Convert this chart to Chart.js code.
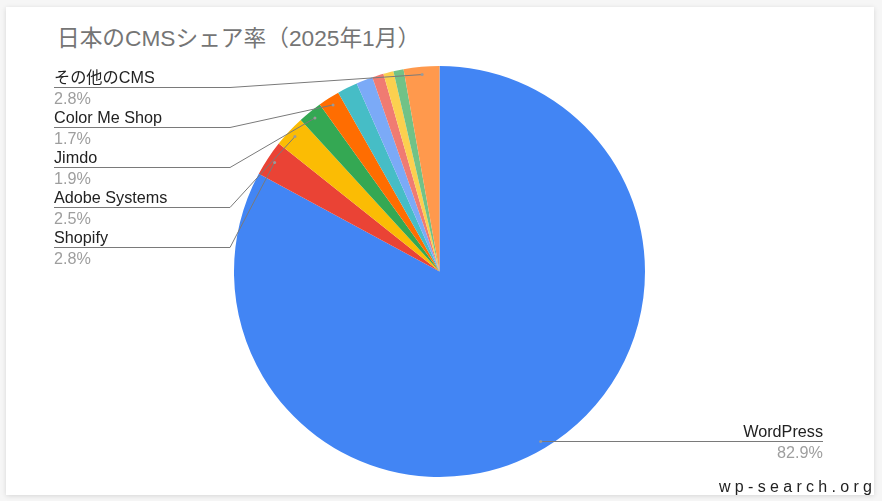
<!DOCTYPE html>
<html lang="ja">
<head>
<meta charset="utf-8">
<title>日本のCMSシェア率（2025年1月）</title>
<script src="https://cdn.jsdelivr.net/npm/chart.js@4/dist/chart.umd.min.js"></script>
<style>
  html, body {
    margin: 0;
    padding: 0;
    width: 882px;
    height: 501px;
    background: #f6f6f6;
    overflow: hidden;
  }
  .card {
    position: absolute;
    left: 6px;
    top: 7px;
    width: 868px;
    height: 488px;
    background: #fff;
    box-shadow: 0 1px 5px rgba(0, 0, 0, 0.13);
  }
  .title {
    position: absolute;
    left: 57px;
    top: 20px;
    font-family: "Liberation Sans", "Noto Sans CJK JP", sans-serif;
    font-size: 22.7px;
    color: #757575;
    white-space: nowrap;
  }
  .watermark {
    position: absolute;
    left: 719px;
    top: 478px;
    font-family: "Liberation Sans", sans-serif;
    font-size: 16px;
    letter-spacing: 4.3px;
    color: #222;
    white-space: nowrap;
  }
  #cms_pie {
    position: absolute;
    left: 0;
    top: 0;
  }
</style>
</head>
<body>
<div class="card"></div>
<div class="title">日本のCMSシェア率（2025年1月）</div>
<canvas id="cms_pie" width="882" height="501"></canvas>
<div class="watermark">wp-search.org</div>

<script>
// データ
const cms_names = [
  "WordPress",
  "Shopify",
  "Adobe Systems",
  "Jimdo",
  "Color Me Shop",
  "",
  "",
  "",
  "",
  "",
  "その他のCMS",
];
const share_values = [82.9, 2.8, 2.5, 1.9, 1.7, 1.6, 1.3, 0.9, 0.8, 0.8, 2.8];
const share_labels = ["82.9%", "2.8%", "2.5%", "1.9%", "1.7%", "", "", "", "", "", "2.8%"];
const slice_colors = [
  "#4285F4",
  "#EA4335",
  "#FBBC04",
  "#34A853",
  "#FF6D01",
  "#46BDC6",
  "#7BAAF7",
  "#F07B72",
  "#FCD04F",
  "#71C287",
  "#FF994D",
];

// ラベルと引き出し線
const callout_plugin = {
  id: "callouts",
  afterDatasetsDraw(chart) {
    const c = chart.ctx;
    const arcs = chart.getDatasetMeta(0).data;
    const left_items = [];
    const right_items = [];

    arcs.forEach((arc, i) => {
      if (!cms_names[i]) return;
      const mid = (arc.startAngle + arc.endAngle) / 2;
      const r = arc.outerRadius * 0.962;
      const dot = { x: arc.x + Math.cos(mid) * r, y: arc.y + Math.sin(mid) * r };
      if (dot.x < arc.x) left_items.push({ i, dot });
      else right_items.push({ i, dot });
    });

    c.save();
    c.lineWidth = 1;
    c.strokeStyle = "#7a7a7a";
    const label_font = '16.2px "Liberation Sans", "Noto Sans CJK JP", sans-serif';

    function drawDot(p) {
      c.fillStyle = "#9a9a9a";
      c.beginPath();
      c.arc(p.x, p.y, 1.5, 0, Math.PI * 2);
      c.fill();
    }

    // 左側
    left_items.sort((a, b) => a.dot.y - b.dot.y);
    left_items.forEach((item, n) => {
      const base = 82.7 + n * 40;
      const line_y = Math.round(base + 4.6) + 0.5;
      c.beginPath();
      c.moveTo(54, line_y);
      c.lineTo(230, line_y);
      c.lineTo(item.dot.x, item.dot.y);
      c.stroke();
      drawDot(item.dot);

      c.textAlign = "left";
      c.textBaseline = "alphabetic";
      c.font = label_font;
      c.fillStyle = "#222";
      c.fillText(cms_names[item.i], 54, base);
      c.fillStyle = "#9e9e9e";
      c.fillText(share_labels[item.i], 54, base + 21.6);
    });

    // 右側
    right_items.forEach((item) => {
      const line_y = Math.round(item.dot.y) + 0.5;
      c.beginPath();
      c.moveTo(item.dot.x, line_y);
      c.lineTo(823, line_y);
      c.stroke();
      drawDot({ x: item.dot.x, y: line_y });

      c.textAlign = "right";
      c.textBaseline = "alphabetic";
      c.font = label_font;
      c.fillStyle = "#222";
      c.fillText(cms_names[item.i], 823, line_y - 5);
      c.fillStyle = "#9e9e9e";
      c.fillText(share_labels[item.i], 823, line_y + 16.5);
    });
    c.restore();
  },
};

const ctx = document.getElementById("cms_pie").getContext("2d");

new Chart(ctx, {
  type: "pie",
  data: {
    labels: cms_names,
    datasets: [
      {
        data: share_values,
        backgroundColor: slice_colors,
        borderWidth: 0,
      },
    ],
  },
  options: {
    responsive: false,
    animation: false,
    layout: {
      padding: { top: 66, bottom: 24, left: 234, right: 237 },
    },
    plugins: {
      legend: { display: false },
      tooltip: { enabled: false },
    },
  },
  plugins: [callout_plugin],
});
</script>
</body>
</html>
